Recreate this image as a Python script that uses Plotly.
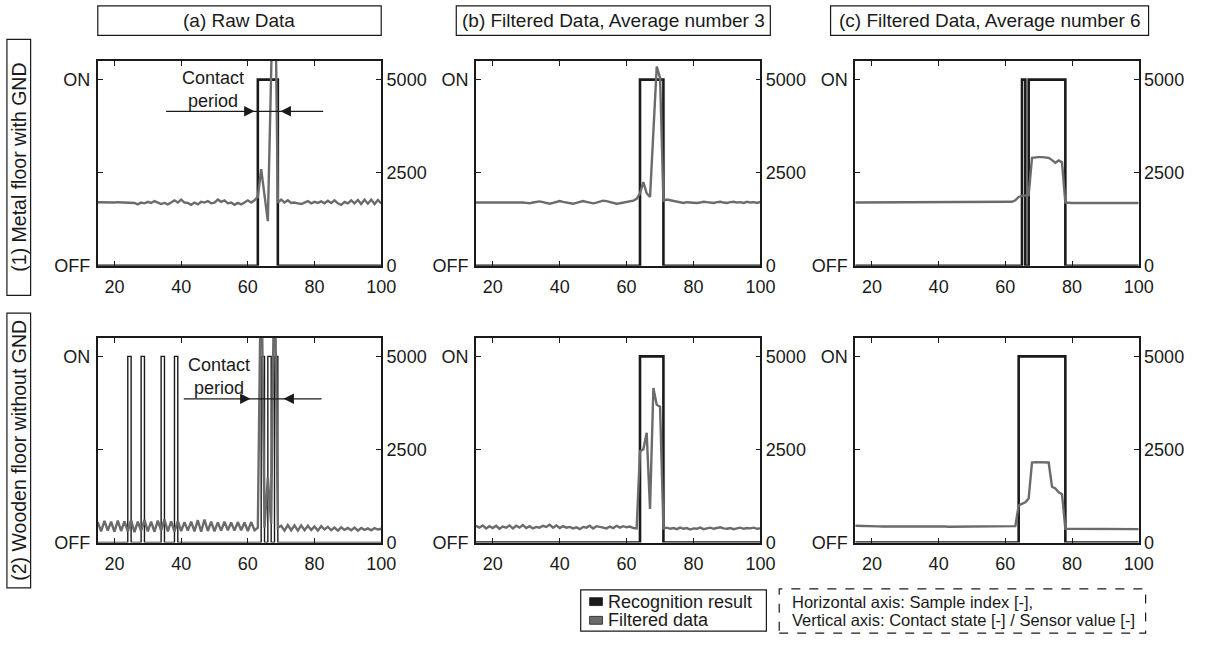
import plotly.graph_objects as go

W, H = 1210, 652

# ---------------- data ----------------
sample_index = list(range(15, 101))

col_titles = ["(a) Raw Data", "(b) Filtered Data, Average number 3", "(c) Filtered Data, Average number 6"]
row_titles = ["(1) Metal floor with GND", "(2) Wooden floor without GND"]
state_ticks = ["OFF", "", "ON"]
sensor_ticks = [0, 2500, 5000]
x_ticks = [20, 40, 60, 80, 100]

# Row 1: metal floor with GND (sensor values)
metal_raw = [
    1710, 1705, 1710, 1700, 1705, 1700, 1710, 1705, 1700, 1705,
    1700, 1690, 1650, 1700, 1680, 1720, 1690, 1740, 1700, 1660,
    1690, 1650, 1700, 1760, 1700, 1780, 1700, 1690, 1640, 1700,
    1650, 1720, 1700, 1740, 1680, 1700, 1780, 1720, 1760, 1680,
    1700, 1640, 1690, 1650, 1700, 1760, 1700, 1760, 1850, 2600,
    1900, 1200, 5200, 9000, 1700, 1780, 1700, 1760, 1690, 1700,
    1680, 1660, 1700, 1740, 1680, 1720, 1690, 1730, 1680, 1750,
    1690, 1760, 1680, 1640, 1720, 1680, 1760, 1680, 1770, 1660,
    1780, 1670, 1780, 1660, 1770, 1680,
]
metal_avg3 = [
    1700, 1700, 1700, 1705, 1700, 1700, 1700, 1710, 1700, 1700,
    1705, 1710, 1720, 1710, 1700, 1690, 1680, 1700, 1720, 1730,
    1710, 1690, 1670, 1690, 1720, 1740, 1720, 1700, 1680, 1670,
    1690, 1720, 1740, 1720, 1700, 1680, 1700, 1730, 1750, 1740,
    1710, 1690, 1670, 1680, 1700, 1720, 1740, 1750, 1800, 1950,
    2250, 1950, 1850, 3600, 5350, 5050, 1750, 1780, 1760, 1730,
    1720, 1700, 1690, 1710, 1700, 1680, 1690, 1700, 1720, 1710,
    1700, 1690, 1710, 1720, 1700, 1690, 1710, 1720, 1700, 1710,
    1690, 1720, 1700, 1710, 1690, 1720,
]
metal_avg6 = [
    1700, 1700, 1700, 1700, 1700, 1700, 1700, 1700, 1700, 1700,
    1700, 1700, 1705, 1710, 1710, 1710, 1710, 1710, 1710, 1710,
    1710, 1710, 1710, 1710, 1710, 1710, 1710, 1710, 1710, 1710,
    1710, 1710, 1710, 1710, 1710, 1710, 1705, 1705, 1700, 1700,
    1700, 1700, 1700, 1700, 1700, 1700, 1700, 1720, 1760, 1850,
    1880, 1890, 1900, 2900, 2920, 2920, 2920, 2920, 2900, 2840,
    2770, 2830, 2780, 1700, 1690, 1690, 1690, 1690, 1695, 1695,
    1695, 1700, 1700, 1700, 1700, 1700, 1695, 1695, 1690, 1690,
    1690, 1690, 1690, 1690, 1690, 1690,
]
# Row 2: wooden floor without GND (sensor values)
wood_raw = [
    550, 300, 580, 320, 560, 290, 590, 310, 570, 300,
    600, 280, 560, 310, 610, 300, 560, 290, 590, 320,
    620, 300, 570, 290, 580, 310, 550, 320, 560, 300,
    600, 290, 620, 310, 560, 300, 540, 320, 560, 330,
    540, 320, 550, 330, 540, 310, 550, 330, 400, 8000,
    400, 1750, 500, 8000, 400, 450, 320, 470, 330, 460,
    320, 460, 330, 450, 340, 430, 320, 440, 350, 420,
    330, 400, 320, 410, 340, 390, 330, 400, 320, 390,
    340, 380, 330, 390, 350, 370,
]
wood_avg3 = [
    450, 400, 460, 380, 440, 390, 450, 370, 430, 400,
    460, 380, 450, 400, 470, 390, 440, 380, 420, 400,
    450, 420, 480, 400, 460, 390, 440, 400, 420, 380,
    410, 360, 420, 400, 450, 380, 440, 410, 400, 380,
    430, 390, 450, 400, 440, 410, 430, 390, 380, 2450,
    2500, 2950, 900, 4150, 3700, 3650, 380, 400, 370, 390,
    360, 400, 370, 390, 350, 380, 370, 400, 360, 380,
    400, 370, 390, 410, 380, 370, 390, 360, 380, 400,
    370, 390, 380, 400, 370, 380,
]
wood_avg6 = [
    450, 450, 455, 450, 445, 440, 440, 435, 430, 430,
    430, 430, 430, 430, 435, 440, 440, 440, 445, 445,
    450, 450, 445, 440, 440, 435, 430, 430, 425, 425,
    420, 420, 420, 420, 420, 420, 420, 420, 420, 425,
    425, 425, 430, 430, 430, 430, 430, 430, 440, 1000,
    1050, 1080, 1180, 2150, 2160, 2160, 2160, 2160, 2150, 1500,
    1450, 1350, 1300, 370, 370, 370, 370, 370, 370, 370,
    370, 370, 370, 370, 370, 370, 370, 365, 365, 365,
    365, 365, 360, 360, 360, 360,
]

# Recognition results (0 = OFF, 1 = ON)
metal_raw_state = [
    0, 0, 0, 0, 0, 0, 0, 0, 0, 0,
    0, 0, 0, 0, 0, 0, 0, 0, 0, 0,
    0, 0, 0, 0, 0, 0, 0, 0, 0, 0,
    0, 0, 0, 0, 0, 0, 0, 0, 0, 0,
    0, 0, 0, 0, 0, 0, 0, 0, 1, 1,
    1, 1, 1, 1, 0, 0, 0, 0, 0, 0,
    0, 0, 0, 0, 0, 0, 0, 0, 0, 0,
    0, 0, 0, 0, 0, 0, 0, 0, 0, 0,
    0, 0, 0, 0, 0, 0,
]
metal_avg3_state = [
    0, 0, 0, 0, 0, 0, 0, 0, 0, 0,
    0, 0, 0, 0, 0, 0, 0, 0, 0, 0,
    0, 0, 0, 0, 0, 0, 0, 0, 0, 0,
    0, 0, 0, 0, 0, 0, 0, 0, 0, 0,
    0, 0, 0, 0, 0, 0, 0, 0, 0, 1,
    1, 1, 1, 1, 1, 1, 0, 0, 0, 0,
    0, 0, 0, 0, 0, 0, 0, 0, 0, 0,
    0, 0, 0, 0, 0, 0, 0, 0, 0, 0,
    0, 0, 0, 0, 0, 0,
]
metal_avg6_state = [
    0, 0, 0, 0, 0, 0, 0, 0, 0, 0,
    0, 0, 0, 0, 0, 0, 0, 0, 0, 0,
    0, 0, 0, 0, 0, 0, 0, 0, 0, 0,
    0, 0, 0, 0, 0, 0, 0, 0, 0, 0,
    0, 0, 0, 0, 0, 0, 0, 0, 0, 0,
    1, 0, 1, 1, 1, 1, 1, 1, 1, 1,
    1, 1, 1, 0, 0, 0, 0, 0, 0, 0,
    0, 0, 0, 0, 0, 0, 0, 0, 0, 0,
    0, 0, 0, 0, 0, 0,
]
wood_raw_state = [
    0, 0, 0, 0, 0, 0, 0, 0, 0, 1,
    0, 0, 0, 1, 0, 0, 0, 0, 0, 1,
    0, 0, 0, 1, 0, 0, 0, 0, 0, 0,
    0, 0, 0, 0, 0, 0, 0, 0, 0, 0,
    0, 0, 0, 0, 0, 0, 0, 0, 0, 1,
    0, 1, 0, 1, 0, 0, 0, 0, 0, 0,
    0, 0, 0, 0, 0, 0, 0, 0, 0, 0,
    0, 0, 0, 0, 0, 0, 0, 0, 0, 0,
    0, 0, 0, 0, 0, 0,
]
wood_avg3_state = [
    0, 0, 0, 0, 0, 0, 0, 0, 0, 0,
    0, 0, 0, 0, 0, 0, 0, 0, 0, 0,
    0, 0, 0, 0, 0, 0, 0, 0, 0, 0,
    0, 0, 0, 0, 0, 0, 0, 0, 0, 0,
    0, 0, 0, 0, 0, 0, 0, 0, 0, 1,
    1, 1, 1, 1, 1, 1, 0, 0, 0, 0,
    0, 0, 0, 0, 0, 0, 0, 0, 0, 0,
    0, 0, 0, 0, 0, 0, 0, 0, 0, 0,
    0, 0, 0, 0, 0, 0,
]
wood_avg6_state = [
    0, 0, 0, 0, 0, 0, 0, 0, 0, 0,
    0, 0, 0, 0, 0, 0, 0, 0, 0, 0,
    0, 0, 0, 0, 0, 0, 0, 0, 0, 0,
    0, 0, 0, 0, 0, 0, 0, 0, 0, 0,
    0, 0, 0, 0, 0, 0, 0, 0, 0, 1,
    1, 1, 1, 1, 1, 1, 1, 1, 1, 1,
    1, 1, 1, 0, 0, 0, 0, 0, 0, 0,
    0, 0, 0, 0, 0, 0, 0, 0, 0, 0,
    0, 0, 0, 0, 0, 0,
]

sensor_series = [metal_raw, metal_avg3, metal_avg6, wood_raw, wood_avg3, wood_avg6]
state_series = [metal_raw_state, metal_avg3_state, metal_avg6_state,
                wood_raw_state, wood_avg3_state, wood_avg6_state]
for s in sensor_series + state_series:
    assert len(s) == len(sample_index)

# ---------------- styling / layout ----------------
FONT = "Liberation Sans, Arial, sans-serif"
INK = "#1a1a1a"
GRAY = "#6b6b6b"


def fx(p):
    return p / W


def fy(p):
    return 1 - p / H


col_px = [(99, 386), (482, 770), (866, 1153)]
row_px = [(62, 270), (343, 551)]
state_width = [2.6, 2.6, 2.6, 1.4, 2.6, 2.6]

fig = go.Figure()
layout = dict(
    autosize=True, margin=dict(l=0, r=0, t=0, b=0),
    paper_bgcolor="white", plot_bgcolor="white", showlegend=False,
    font=dict(family=FONT, size=18, color=INK),
)

for i in range(6):
    r, c = divmod(i, 3)
    n = i + 1
    nr = i + 7
    xs = "" if n == 1 else str(n)
    xd = [fx(col_px[c][0]), fx(col_px[c][1])]
    yd = [fy(row_px[r][1]), fy(row_px[r][0])]
    axis_common = dict(showline=True, linecolor=INK, linewidth=1.6, ticks="inside",
                       ticklen=5, tickwidth=1.2, tickcolor=INK, showgrid=False, zeroline=False,
                       tickfont=dict(family=FONT, size=18, color=INK))
    layout["xaxis" + xs] = dict(domain=xd, anchor="y" + xs, range=[15, 100],
                                tickvals=x_ticks, mirror="ticks", ticklabelstandoff=4,
                                **axis_common)
    layout["yaxis" + xs] = dict(domain=yd, anchor="x" + xs, range=[0, 1.1],
                                tickvals=[0, 0.5, 1], ticktext=state_ticks, mirror=True,
                                ticklabelstandoff=2, **axis_common)
    layout["yaxis" + str(nr)] = dict(overlaying="y" + xs, anchor="x" + xs, side="right",
                                     range=[0, 5500], tickvals=sensor_ticks, **axis_common)

    fig.add_trace(go.Scatter(x=sample_index, y=state_series[i], mode="lines",
                             line=dict(color=INK, width=state_width[i], shape="hv"),
                             xaxis="x" + xs, yaxis="y" + xs, name="Recognition result"))
    fig.add_trace(go.Scatter(x=sample_index, y=sensor_series[i], mode="lines",
                             line=dict(color=GRAY, width=2.4),
                             xaxis="x" + xs, yaxis="y" + str(nr), name="Filtered data"))

shapes = []
annotations = []

# column titles
title_boxes = [(99, 386), (462, 780), (841, 1163)]
for (x0, x1), t in zip(title_boxes, col_titles):
    shapes.append(dict(type="rect", xref="paper", yref="paper", x0=fx(x0), x1=fx(x1),
                       y0=fy(36), y1=fy(6), line=dict(color=INK, width=1.2)))
    annotations.append(dict(xref="paper", yref="paper", x=fx((x0 + x1) / 2), y=fy(21),
                            text=t, showarrow=False, font=dict(size=19, family=FONT, color=INK),
                            xanchor="center", yanchor="middle"))

# row titles
row_boxes = [(40, 300), (318, 597)]
for (y0, y1), t in zip(row_boxes, row_titles):
    shapes.append(dict(type="rect", xref="paper", yref="paper", x0=fx(7), x1=fx(31),
                       y0=fy(y1), y1=fy(y0), line=dict(color=INK, width=1.2)))
    annotations.append(dict(xref="paper", yref="paper", x=fx(19.5), y=fy((y0 + y1) / 2),
                            text=t, showarrow=False, textangle=-90,
                            font=dict(size=19.5, family=FONT, color=INK),
                            xanchor="center", yanchor="middle"))

# "Contact period" markers in raw-data panels
contact = [
    # xref, yref, text x, text y, line y, line x0, line x1, tip left, tip right
    ("x", "y7", 49.5, 4730, 4150, 35.5, 82.6, 62.0, 69.8),
    ("x4", "y10", 51.3, 4450, 3860, 40.8, 82.1, 60.8, 70.7),
]
for xr, yr, tx, ty, ly, lx0, lx1, tl, tr in contact:
    annotations.append(dict(xref=xr, yref=yr, x=tx, y=ty, text="Contact<br>period",
                            showarrow=False, font=dict(size=18, family=FONT, color=INK),
                            xanchor="center", yanchor="middle"))
    shapes.append(dict(type="line", xref=xr, yref=yr, x0=lx0, x1=lx1, y0=ly, y1=ly,
                       line=dict(color=INK, width=1.2)))
    annotations.append(dict(xref=xr, yref=yr, x=tl, y=ly, axref=xr, ayref=yr,
                            ax=tl - 3.5, ay=ly, text="", showarrow=True, arrowhead=2,
                            arrowsize=1.6, arrowwidth=1.3, arrowcolor=INK, standoff=0))
    annotations.append(dict(xref=xr, yref=yr, x=tr, y=ly, axref=xr, ayref=yr,
                            ax=tr + 3.5, ay=ly, text="", showarrow=True, arrowhead=2,
                            arrowsize=1.6, arrowwidth=1.3, arrowcolor=INK, standoff=0))

# legend box
shapes.append(dict(type="rect", xref="paper", yref="paper", x0=fx(588), x1=fx(776),
                   y0=fy(641), y1=fy(599), line=dict(color=INK, width=1.2)))
legend_items = [("Recognition result", INK, 611), ("Filtered data", GRAY, 630)]
for label, colr, yc in legend_items:
    shapes.append(dict(type="rect", xref="paper", yref="paper", x0=fx(597), x1=fx(610),
                       y0=fy(yc + 4), y1=fy(yc - 4), fillcolor=colr,
                       line=dict(color=INK, width=0.8)))
    annotations.append(dict(xref="paper", yref="paper", x=fx(614), y=fy(yc), text=label,
                            showarrow=False, font=dict(size=18, family=FONT, color=INK),
                            xanchor="left", yanchor="middle"))

# axis description box (dashed)
shapes.append(dict(type="rect", xref="paper", yref="paper", x0=fx(789), x1=fx(1160),
                   y0=fy(643), y1=fy(598), line=dict(color=INK, width=1.2, dash="dash")))
axis_notes = ["Horizontal axis: Sample index [-],",
              "Vertical axis: Contact state [-] / Sensor value [-]"]
for note, yc in zip(axis_notes, [611, 630]):
    annotations.append(dict(xref="paper", yref="paper", x=fx(800), y=fy(yc), text=note,
                            showarrow=False, font=dict(size=16.5, family=FONT, color=INK),
                            xanchor="left", yanchor="middle"))

layout["shapes"] = shapes
layout["annotations"] = annotations
fig.update_layout(**layout)

fig.write_html(
    "out.html",
    config={"displayModeBar": False, "responsive": True},
    default_width="100%",
    default_height="100%",
    post_script=("document.documentElement.style.height='100%';"
                 "document.documentElement.style.margin='0';"
                 "document.documentElement.style.overflow='hidden';"
                 "document.body.style.height='100%';"
                 "document.body.style.margin='0';"
                 "document.body.style.overflow='hidden';"
                 "var gd=document.getElementById('{plot_id}');"
                 "gd.parentNode.style.height='100%';"
                 "gd.style.width='100vw';gd.style.height='100vh';"
                 "Plotly.Plots.resize(gd);"),
)
